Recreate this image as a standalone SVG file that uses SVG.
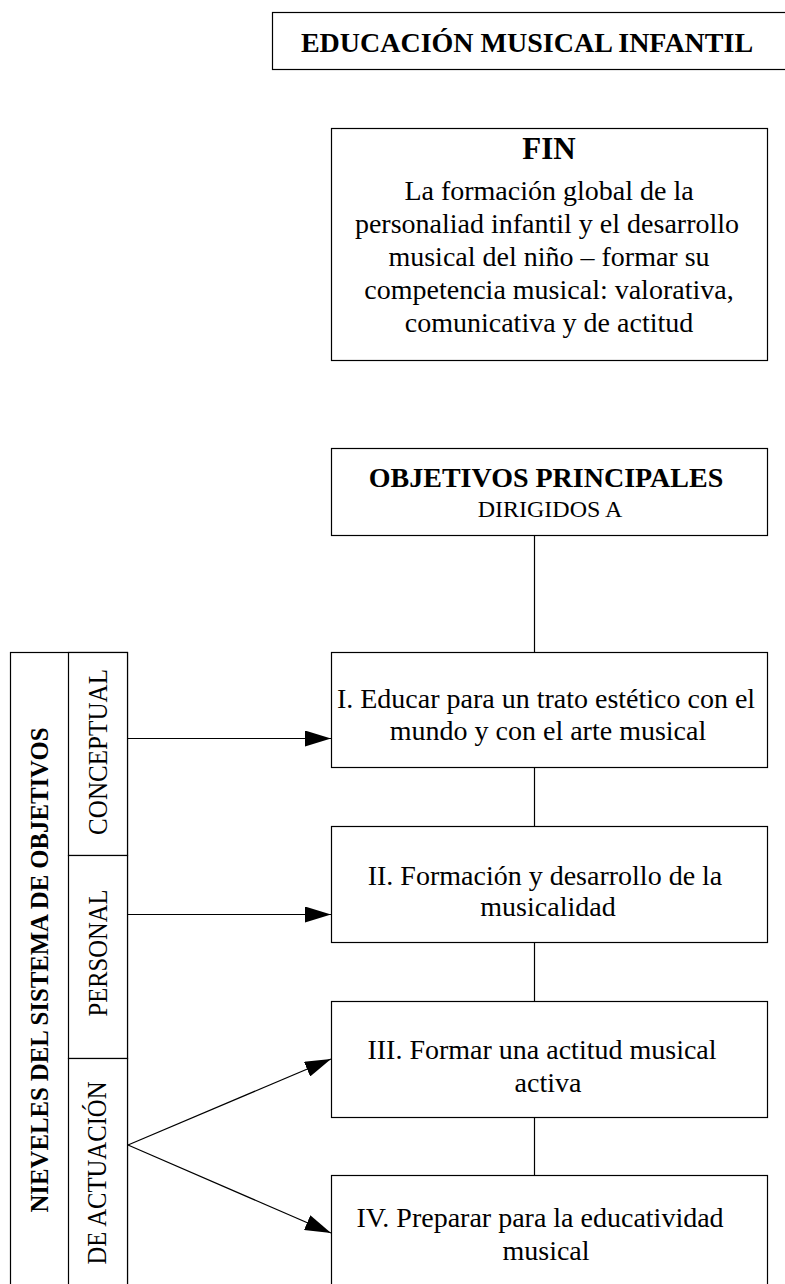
<svg xmlns="http://www.w3.org/2000/svg" width="785" height="1284" viewBox="0 0 785 1284">
<style>
.box{fill:#fff;stroke:#000;stroke-width:1.2}
.t{font-family:"Liberation Serif","Times New Roman",serif;font-size:28px;fill:#000;text-anchor:middle}
.b{font-weight:bold}
.v{font-size:27px}
.c{stroke:#000;stroke-width:1.2;fill:none}
</style>
<defs>
<marker id="ah" viewBox="0 0 26 16" refX="26" refY="8" markerWidth="26" markerHeight="16" orient="auto" markerUnits="userSpaceOnUse">
<path d="M0,0 L26,8 L0,16 Z" fill="#000"/>
</marker>
</defs>
<rect width="785" height="1284" fill="#fff"/>

<g id="title">
<rect class="box" x="272.5" y="12.5" width="530" height="57"/>
<text class="t b" x="527" y="52">EDUCACIÓN MUSICAL INFANTIL</text>
</g>

<g id="fin">
<rect class="box" x="331.5" y="128.5" width="436" height="232"/>
<text class="t b" x="549" y="159" style="font-size:31px">FIN</text>
<text class="t" x="549" y="200">La formación global de la</text>
<text class="t" x="547" y="233">personaliad infantil y el desarrollo</text>
<text class="t" x="549" y="266">musical del niño – formar su</text>
<text class="t" x="549" y="299">competencia musical: valorativa,</text>
<text class="t" x="549" y="332">comunicativa y de actitud</text>
</g>

<g id="objetivos">
<rect class="box" x="331.5" y="448.5" width="436" height="87"/>
<text class="t b" x="546" y="487">OBJETIVOS PRINCIPALES</text>
<text class="t" x="550" y="517" style="font-size:24px">DIRIGIDOS A</text>
</g>

<g id="obj1">
<rect class="box" x="331.5" y="652.5" width="436" height="115"/>
<text class="t" x="546" y="708">I. Educar para un trato estético con el</text>
<text class="t" x="548" y="740">mundo y con el arte musical</text>
</g>

<g id="obj2">
<rect class="box" x="331.5" y="826.5" width="436" height="116"/>
<text class="t" x="545" y="885">II. Formación y desarrollo de la</text>
<text class="t" x="548" y="916">musicalidad</text>
</g>

<g id="obj3">
<rect class="box" x="331.5" y="1001.5" width="436" height="116"/>
<text class="t" x="542" y="1059">III. Formar una actitud musical</text>
<text class="t" x="548" y="1092">activa</text>
</g>

<g id="obj4">
<rect class="box" x="331.5" y="1175.5" width="436" height="140"/>
<text class="t" x="540" y="1227">IV. Preparar para la educatividad</text>
<text class="t" x="546" y="1260">musical</text>
</g>

<g id="niveles">
<rect class="box" x="10.5" y="652.5" width="117" height="700"/>
<text class="t b" style="font-size:26px" transform="translate(48,970) rotate(-90)" x="0" y="0" textLength="485" lengthAdjust="spacingAndGlyphs">NIEVELES DEL SISTEMA DE OBJETIVOS</text>
</g>

<g id="conceptual">
<rect class="box" x="68.5" y="652.5" width="59" height="203"/>
<text class="t v" transform="translate(107,752) rotate(-90)" x="0" y="0" textLength="166" lengthAdjust="spacingAndGlyphs">CONCEPTUAL</text>
</g>

<g id="personal">
<rect class="box" x="68.5" y="855.5" width="59" height="203"/>
<text class="t v" transform="translate(107,953) rotate(-90)" x="0" y="0" textLength="127" lengthAdjust="spacingAndGlyphs">PERSONAL</text>
</g>

<g id="actuacion">
<rect class="box" x="68.5" y="1058.5" width="59" height="300"/>
<text class="t v" transform="translate(106,1173) rotate(-90)" x="0" y="0" textLength="183" lengthAdjust="spacingAndGlyphs">DE ACTUACIÓN</text>
</g>

<g id="connectors">
<line class="c" x1="534.5" y1="536" x2="534.5" y2="652"/>
<line class="c" x1="534.5" y1="768" x2="534.5" y2="826"/>
<line class="c" x1="534.5" y1="943" x2="534.5" y2="1001"/>
<line class="c" x1="534.5" y1="1118" x2="534.5" y2="1175"/>
<line class="c" x1="128" y1="738.5" x2="331" y2="738.5" marker-end="url(#ah)"/>
<line class="c" x1="128" y1="914.5" x2="331" y2="914.5" marker-end="url(#ah)"/>
<line class="c" x1="128" y1="1145" x2="331" y2="1059" marker-end="url(#ah)"/>
<line class="c" x1="128" y1="1145" x2="331" y2="1233" marker-end="url(#ah)"/>
</g>
</svg>
